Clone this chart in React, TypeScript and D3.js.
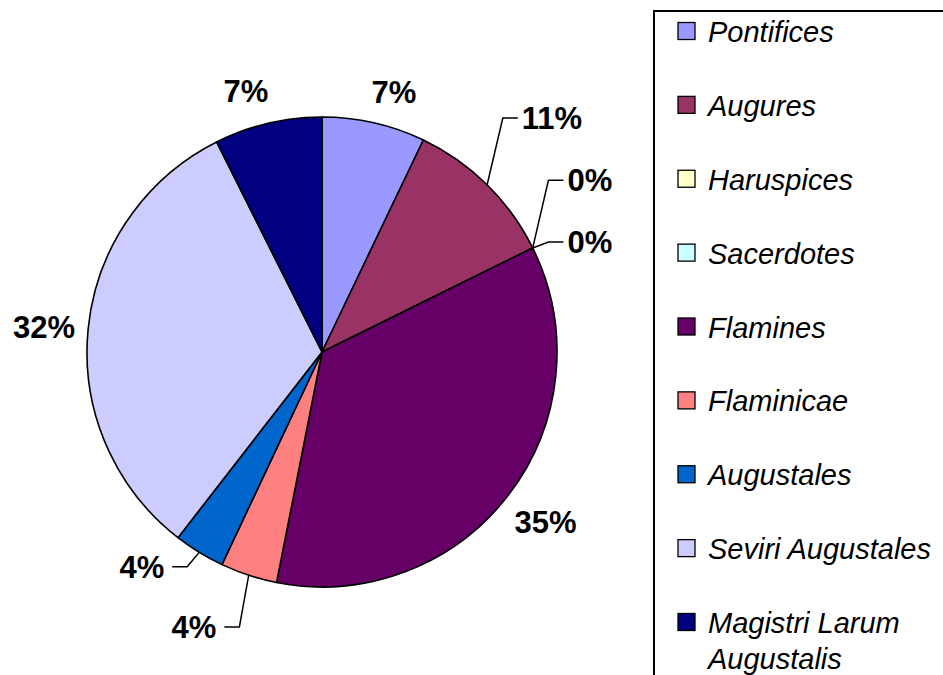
import React from "react";
import * as d3 from "d3";

// priesthood categories, shares in percent
const categories = [
  "Pontifices",
  "Augures",
  "Haruspices",
  "Sacerdotes",
  "Flamines",
  "Flaminicae",
  "Augustales",
  "Seviri Augustales",
  "Magistri Larum Augustalis",
];
const values = [7.1, 10.6, 0, 0, 35.4, 3.9, 3.5, 32.1, 7.4];
const colors = [
  "#9999FF",
  "#993366",
  "#FFFFCC",
  "#CCFFFF",
  "#660066",
  "#FF8080",
  "#0066CC",
  "#CCCCFF",
  "#000080",
];
// legend lines (wrapped as in the source)
const legendLines = [
  ["Pontifices"],
  ["Augures"],
  ["Haruspices"],
  ["Sacerdotes"],
  ["Flamines"],
  ["Flaminicae"],
  ["Augustales"],
  ["Seviri Augustales"],
  ["Magistri Larum", "Augustalis"],
];

// label placement relative to the slice's outer edge midpoint
type LabelLayout = { leader?: [number, number]; off?: [number, number] };
const labelLayout: LabelLayout[] = [
  { off: [20, -31] },
  { leader: [15.7, -66.7] },
  { leader: [15.7, -67.6] },
  { leader: [15.7, -5.9] },
  { off: [37, 27] },
  { leader: [-9.3, 51.7] },
  { leader: [-12, 14.3] },
  { off: [-44, -2] },
  { off: [-22, -32] },
];

const W = 943;
const H = 675;
const cx = 322;
const cy = 352;
const R = 235;
const labelFont = 31;
const legendFont = 29;

export default function App() {
  const total = d3.sum(values);
  const pie = d3
    .pie<number>()
    .sort(null)
    .value((d) => d)
    .startAngle(0)
    .endAngle(2 * Math.PI);
  const arcs = pie(values);
  const arc = d3.arc<d3.PieArcDatum<number>>().innerRadius(0).outerRadius(R);

  const polar = (a: number, r: number): [number, number] => [
    cx + r * Math.sin(a),
    cy - r * Math.cos(a),
  ];

  const rowY = d3
    .scaleLinear()
    .domain([0, categories.length - 1])
    .range([42, 633]);

  return (
    <svg
      width={W}
      height={H}
      style={{ position: "absolute", left: 0, top: 0, background: "#fff" }}
      fontFamily="'Liberation Sans', Arial, sans-serif"
    >
      <g transform={`translate(${cx},${cy})`}>
        {arcs.map((a, i) =>
          a.endAngle - a.startAngle > 0 ? (
            <path
              key={i}
              d={arc(a) || ""}
              fill={colors[i]}
              stroke="#000"
              strokeWidth={1.6}
              strokeLinejoin="round"
            />
          ) : null
        )}
      </g>

      {arcs.map((a, i) => {
        const mid = (a.startAngle + a.endAngle) / 2;
        const [ex, ey] = polar(mid, R);
        const lay = labelLayout[i];
        const txt = `${Math.round((values[i] / total) * 100)}%`;
        if (lay.leader) {
          const bx = ex + lay.leader[0];
          const by = ey + lay.leader[1];
          const dir = lay.leader[0] >= 0 ? 1 : -1;
          const hx = bx + dir * 15;
          return (
            <g key={i}>
              <polyline
                points={`${ex},${ey} ${bx},${by} ${hx},${by}`}
                fill="none"
                stroke="#000"
                strokeWidth={1.5}
              />
              <text
                x={hx + dir * (dir > 0 ? 4 : 8)}
                y={by + 11}
                textAnchor={dir > 0 ? "start" : "end"}
                fontSize={labelFont}
                fontWeight="bold"
              >
                {txt}
              </text>
            </g>
          );
        }
        const [ox, oy] = lay.off || [0, 0];
        return (
          <text
            key={i}
            x={ex + ox}
            y={ey + oy + 11}
            textAnchor="middle"
            fontSize={labelFont}
            fontWeight="bold"
          >
            {txt}
          </text>
        );
      })}

      <rect x={654} y={11} width={400} height={700} fill="none" stroke="#000" strokeWidth={2} />
      {categories.map((c, i) => {
        const y = rowY(i);
        return (
          <g key={c}>
            <rect x={678} y={y - 19.5} width={17} height={17} fill={colors[i]} stroke="#000" strokeWidth={1.3} />
            {legendLines[i].map((line, j) => (
              <text key={j} x={708} y={y + j * 36} fontSize={legendFont} fontStyle="italic">
                {line}
              </text>
            ))}
          </g>
        );
      })}
    </svg>
  );
}
